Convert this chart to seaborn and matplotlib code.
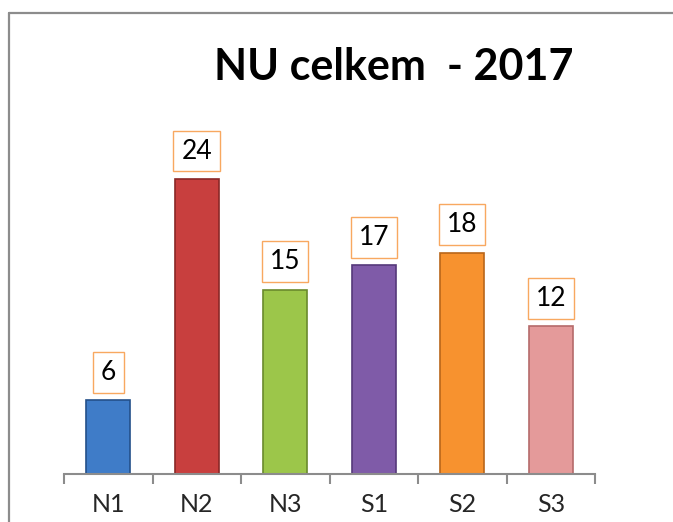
import matplotlib
matplotlib.use("Agg")
import matplotlib.pyplot as plt
import seaborn as sns
import pandas as pd
from matplotlib.lines import Line2D

# Data
categories = ["N1", "N2", "N3", "S1", "S2", "S3"]
values = [6, 24, 15, 17, 18, 12]
bar_colors = ["#3f7cc8", "#c83f3e", "#9cc64a", "#7f5ba8", "#f7922f", "#e49a9a"]
edge_colors = ["#24508a", "#8a2726", "#6a8a2c", "#55397a", "#b9661a", "#b56b6b"]

sns.set_theme(style="white")
plt.rcParams["font.family"] = ["Lato", "DejaVu Sans"]

df = pd.DataFrame({"cat": categories, "val": values})

fig = plt.figure(figsize=(6.73, 5.22), dpi=100)
W, H = 673, 522
ax = fig.add_axes([64 / W, (H - 474) / H, (595 - 64) / W, (474 - 105) / H])

sns.barplot(data=df, x="cat", y="val", hue="cat", palette=bar_colors,
            width=0.5, legend=False, ax=ax, saturation=1)
for patch, ec in zip(ax.patches, edge_colors):
    patch.set_edgecolor(ec)
    patch.set_linewidth(1.2)

ax.set_xlim(-0.5, len(categories) - 0.5)
ax.set_ylim(0, 30)

# value labels in orange boxes
for i, v in enumerate(values):
    ax.annotate(str(v), xy=(i, v), xytext=(0, 20), textcoords="offset points",
                ha="center", va="center", fontsize=19, color="black",
                bbox=dict(boxstyle="square,pad=0.3", fc="white",
                          ec="#f8a860", lw=1.0))

# axes styling
for s in ["left", "right", "top"]:
    ax.spines[s].set_visible(False)
ax.spines["bottom"].set_color("#8c8c8c")
ax.spines["bottom"].set_linewidth(1.5)
ax.set_yticks([])
ax.set_xlabel("")
ax.set_ylabel("")
ax.set_xticks(range(len(categories)))
ax.set_xticklabels(categories, fontsize=18)
ax.tick_params(axis="x", which="major", length=0, pad=14)
ax.set_xticks([i - 0.5 for i in range(len(categories) + 1)], minor=True)
ax.tick_params(axis="x", which="minor", length=7, width=1.5, color="#8c8c8c",
               direction="out", bottom=True)

fig.text(394 / W, 1 - 67 / H, "NU celkem  - 2017", ha="center", va="center",
         fontsize=31, fontweight="bold", color="black")

# outer chart border (left and top visible)
fig.add_artist(Line2D([9 / W, 9 / W], [0, 1 - 13 / H], color="#8c8c8c", lw=1.6,
                      transform=fig.transFigure))
fig.add_artist(Line2D([9 / W, 1], [1 - 13 / H, 1 - 13 / H], color="#8c8c8c", lw=1.6,
                      transform=fig.transFigure))

fig.savefig("out.png", dpi=100)
